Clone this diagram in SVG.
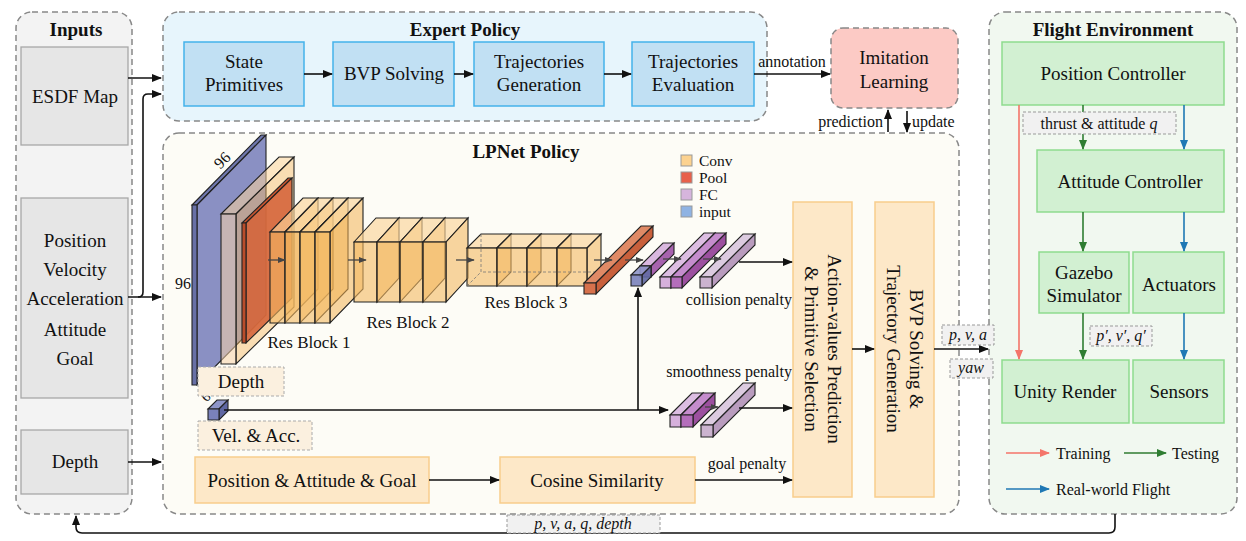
<svg xmlns="http://www.w3.org/2000/svg" width="1246" height="541" viewBox="0 0 1246 541">
<defs>
<marker id="ah" viewBox="0 0 10 10" refX="9" refY="5" markerWidth="10" markerHeight="10" markerUnits="userSpaceOnUse" orient="auto"><path d="M0,1 L10,5 L0,9 z" fill="#111"/></marker>
<marker id="ahs" viewBox="0 0 10 10" refX="9" refY="5" markerWidth="8" markerHeight="8" markerUnits="userSpaceOnUse" orient="auto"><path d="M0,1 L10,5 L0,9 z" fill="#444"/></marker>
<marker id="ahr" viewBox="0 0 10 10" refX="9" refY="5" markerWidth="10" markerHeight="10" markerUnits="userSpaceOnUse" orient="auto"><path d="M0,1 L10,5 L0,9 z" fill="#f4756a"/></marker>
<marker id="ahg" viewBox="0 0 10 10" refX="9" refY="5" markerWidth="10" markerHeight="10" markerUnits="userSpaceOnUse" orient="auto"><path d="M0,1 L10,5 L0,9 z" fill="#2f7d32"/></marker>
<marker id="ahb" viewBox="0 0 10 10" refX="9" refY="5" markerWidth="10" markerHeight="10" markerUnits="userSpaceOnUse" orient="auto"><path d="M0,1 L10,5 L0,9 z" fill="#1f78b4"/></marker>
</defs>
<style>
text{font-family:"Liberation Serif","Times New Roman",serif;fill:#111;stroke:none}
.t{font-size:19px;text-anchor:middle}
.tb{font-size:19px;font-weight:bold;text-anchor:middle}
.s{font-size:16px}
.sm{font-size:17px;text-anchor:middle}
.it{font-style:italic}
.panel{stroke:#888;stroke-width:1.5;stroke-dasharray:6 4}
.inb{fill:#e6e6e6;stroke:#a8a8a8;stroke-width:1.3}
.exb{fill:#c1e0f3;stroke:#44b2ea;stroke-width:1.5}
.orb{fill:#fde8c8;stroke:#f8cd8c;stroke-width:1.5}
.grb{fill:#d2f0d2;stroke:#8edb8e;stroke-width:1.5}
.lbl{fill:#f1f1f1;stroke:#999;stroke-width:1;stroke-dasharray:3 2}
.lblo{fill:#fbf0df;stroke:#aaa;stroke-width:1;stroke-dasharray:3 2}
.c{fill:none;stroke:#111;stroke-width:1.6}
.cs{fill:none;stroke:#444;stroke-width:1.3}
.cv{stroke:#222;stroke-width:1.1}
.cvf{fill:#f4b962;fill-opacity:.6}
.cvt{fill:#fbd49a;fill-opacity:.65}
.cvs{fill:#f2b255;fill-opacity:.55}
</style>

<!-- panels -->
<g id="inputs">
<rect class="panel" x="16" y="12" width="116" height="502" rx="16" fill="#f3f3f3"/>
<text class="tb" x="76" y="36">Inputs</text>
</g>
<g id="expert-policy">
<rect class="panel" x="163" y="12" width="604" height="109" rx="16" fill="#e7f5fc"/>
<text class="tb" x="465" y="36">Expert Policy</text>
</g>
<g id="lpnet-policy">
<rect class="panel" x="163" y="133" width="796" height="381" rx="16" fill="#fdfcf6"/>
<text class="tb" x="526" y="158">LPNet Policy</text>
</g>
<g id="flight-environment">
<rect class="panel" x="989" y="12" width="248" height="502" rx="16" fill="#f1f8f0"/>
<text class="tb" x="1113" y="36">Flight Environment</text>
</g>

<!-- input nodes -->
<g id="esdf-map"><rect class="inb" x="21" y="47" width="107" height="98"/><text class="t" x="75" y="103">ESDF Map</text></g>
<g id="state-inputs"><rect class="inb" x="21" y="198" width="107" height="200"/>
<text class="t" x="75" y="247">Position</text><text class="t" x="75" y="276">Velocity</text><text class="t" x="75" y="305">Acceleration</text><text class="t" x="75" y="336">Attitude</text><text class="t" x="75" y="365">Goal</text></g>
<g id="depth-input"><rect class="inb" x="21" y="430" width="107" height="64"/><text class="t" x="75" y="468">Depth</text></g>

<!-- expert nodes -->
<g id="state-primitives"><rect class="exb" x="184" y="42" width="120" height="64"/><text class="t" x="244" y="68">State</text><text class="t" x="244" y="91">Primitives</text></g>
<g id="bvp-solving"><rect class="exb" x="333" y="42" width="121" height="64"/><text class="t" x="394" y="80">BVP Solving</text></g>
<g id="traj-generation"><rect class="exb" x="474" y="42" width="130" height="64"/><text class="t" x="539" y="68">Trajectories</text><text class="t" x="539" y="91">Generation</text></g>
<g id="traj-evaluation"><rect class="exb" x="632" y="42" width="122" height="64"/><text class="t" x="693" y="68">Trajectories</text><text class="t" x="693" y="91">Evaluation</text></g>
<g id="imitation-learning"><rect x="831" y="28" width="127" height="80" rx="12" fill="#fccac5" stroke="#888" stroke-width="1.5" stroke-dasharray="6 4"/><text class="t" x="894" y="64">Imitation</text><text class="t" x="894" y="88">Learning</text></g>

<!-- CNN drawing -->
<g id="depth-plane" class="cv">
<polygon points="192,205 261,135 266,135 197,205" fill="#6f77ad"/>
<polygon points="197,205 266,135 266,315 197,385" fill="#8a90c3"/>
<polygon points="192,205 197,205 197,385 192,385" fill="#6870a6"/>
<text class="s" x="0" y="0" transform="translate(226,164) rotate(-45)" text-anchor="middle">96</text>
<text class="s" x="183" y="289" text-anchor="middle">96</text>
</g>
<g id="conv1" class="cv">
<polygon points="221,214 279,157 294,157 236,214" fill="#fbd49a" fill-opacity=".55"/>
<polygon points="236,214 294,157 294,307 236,364" fill="#f4b962" fill-opacity=".45"/>
<polygon points="242,223 288,178 292,178 246,223" fill="#c85530"/>
<polygon points="246,223 292,178 292,298 246,343" fill="#d5653b" fill-opacity=".9"/>
<polygon points="242,223 246,223 246,343 242,343" fill="#b94d2b"/>
<polygon points="221,214 236,214 236,364 221,364" fill="#f7d2a8" fill-opacity=".55"/>
</g>
<g id="res-block-1" class="cv">
<polygon class="cvt" points="270,232 303,198 318,198 285,232"/><polygon class="cvs" points="285,232 318,198 318,289 285,323"/><polygon class="cvf" points="270,232 285,232 285,323 270,323"/>
<polygon class="cvt" points="285,232 318,198 333,198 300,232"/><polygon class="cvs" points="300,232 333,198 333,289 300,323"/><polygon class="cvf" points="285,232 300,232 300,323 285,323"/>
<polygon class="cvt" points="300,232 333,198 348,198 315,232"/><polygon class="cvs" points="315,232 348,198 348,289 315,323"/><polygon class="cvf" points="300,232 315,232 315,323 300,323"/>
<polygon class="cvt" points="315,232 348,198 363,198 330,232"/><polygon class="cvs" points="330,232 363,198 363,289 330,323"/><polygon class="cvf" points="315,232 330,232 330,323 315,323"/>
<text x="309" y="348" class="sm">Res Block 1</text>
</g>
<g id="res-block-2" class="cv">
<polygon class="cvt" points="354,242 376,218 399,218 377,242"/><polygon class="cvs" points="377,242 399,218 399,278 377,302"/><polygon class="cvf" points="354,242 377,242 377,302 354,302"/>
<polygon class="cvt" points="377,242 399,218 422,218 400,242"/><polygon class="cvs" points="400,242 422,218 422,278 400,302"/><polygon class="cvf" points="377,242 400,242 400,302 377,302"/>
<polygon class="cvt" points="400,242 422,218 445,218 423,242"/><polygon class="cvs" points="423,242 445,218 445,278 423,302"/><polygon class="cvf" points="400,242 423,242 423,302 400,302"/>
<polygon class="cvt" points="423,242 445,218 468,218 446,242"/><polygon class="cvs" points="446,242 468,218 468,278 446,302"/><polygon class="cvf" points="423,242 446,242 446,302 423,302"/>
<text x="408" y="328" class="sm">Res Block 2</text>
</g>
<g id="res-block-3" class="cv">
<polygon class="cvt" points="467,248 481,234 511,234 497,248"/><polygon class="cvs" points="497,248 511,234 511,272 497,286"/><polygon class="cvf" points="467,248 497,248 497,286 467,286" fill-opacity=".35"/>
<polygon class="cvt" points="497,248 511,234 541,234 527,248"/><polygon class="cvs" points="527,248 541,234 541,272 527,286"/><polygon class="cvf" points="497,248 527,248 527,286 497,286"/>
<polygon class="cvt" points="527,248 541,234 571,234 557,248"/><polygon class="cvs" points="557,248 571,234 571,272 557,286"/><polygon class="cvf" points="527,248 557,248 557,286 527,286" fill-opacity=".35"/>
<polygon class="cvt" points="557,248 571,234 601,234 587,248"/><polygon class="cvs" points="587,248 601,234 601,272 587,286"/><polygon class="cvf" points="557,248 587,248 587,286 557,286"/>
<path d="M481,234 V272 H601 M467,286 L481,272" fill="none" stroke="#777" stroke-width=".8" stroke-dasharray="3 2"/>
<text x="526" y="308" class="sm">Res Block 3</text>
</g>
<g id="pool2" class="cv">
<polygon points="584,283 641,226 653,226 596,283" fill="#e08a66"/>
<polygon points="596,283 653,226 653,237 596,294" fill="#c9603c"/>
<polygon points="584,283 596,283 596,294 584,294" fill="#d7714c"/>
</g>
<g id="fc1" class="cv">
<polygon points="640,266 663,243 674,243 651,266" fill="#d9b7df"/>
<polygon points="651,266 674,243 674,254 651,277" fill="#a763ae"/>
<polygon points="640,266 651,266 651,277 640,277" fill="#c08ec8"/>
<polygon points="631,275 640,266 651,266 642,275" fill="#8e95c8" fill-opacity=".9"/>
<polygon points="642,275 651,266 651,277 642,286" fill="#5f67a2" fill-opacity=".9"/>
<polygon points="631,275 642,275 642,286 631,286" fill="#7a82bb" fill-opacity=".9"/>
</g>
<g id="fc2" class="cv">
<polygon points="660,277 704,233 715,233 671,277" fill="#dcbde2"/>
<polygon points="671,277 715,233 715,244 671,288" fill="#c796cf"/>
<polygon points="660,277 671,277 671,288 660,288" fill="#d6b0dc"/>
<polygon points="671,277 715,233 726,233 682,277" fill="#c58ccd"/>
<polygon points="682,277 726,233 726,244 682,288" fill="#9c509f"/>
<polygon points="671,277 682,277 682,288 671,288" fill="#b46ebb"/>
</g>
<g id="fc3" class="cv">
<polygon points="700,277 743,234 755,234 712,277" fill="#dccbe0"/>
<polygon points="712,277 755,234 755,245 712,288" fill="#b99cbe"/>
<polygon points="700,277 712,277 712,288 700,288" fill="#cbb3cf"/>
<text class="s" x="792" y="305" text-anchor="end">collision penalty</text>
</g>
<g id="vel-acc" class="cv">
<polygon points="208,409 217,400 228,400 219,409" fill="#8e95c8"/>
<polygon points="219,409 228,400 228,411 219,420" fill="#5f67a2"/>
<polygon points="208,409 219,409 219,420 208,420" fill="#7a82bb"/>
<text x="0" y="0" font-size="14" transform="translate(209,400) rotate(-45)" text-anchor="middle">6</text>
</g>
<g id="smooth-fc" class="cv">
<polygon points="670,415 692,393 703,393 681,415" fill="#dcbde2"/>
<polygon points="681,415 703,393 703,405 681,427" fill="#c796cf"/>
<polygon points="670,415 681,415 681,427 670,427" fill="#d6b0dc"/>
<polygon points="681,415 703,393 715,393 693,415" fill="#c58ccd"/>
<polygon points="693,415 715,393 715,405 693,427" fill="#9c509f"/>
<polygon points="681,415 693,415 693,427 681,427" fill="#b46ebb"/>
<polygon points="701,425 743,383 755,383 713,425" fill="#dccbe0"/>
<polygon points="713,425 755,383 755,395 713,437" fill="#b99cbe"/>
<polygon points="701,425 713,425 713,437 701,437" fill="#cbb3cf"/>
<text class="s" x="792" y="377" text-anchor="end">smoothness penalty</text>
</g>
<g id="cnn-legend">
<rect x="681" y="155" width="11" height="11" fill="#fcd28f" stroke="#999"/><text x="699" y="166" font-size="15.5">Conv</text>
<rect x="681" y="172" width="11" height="11" fill="#e8604a" stroke="#999"/><text x="699" y="183" font-size="15.5">Pool</text>
<rect x="681" y="189" width="11" height="11" fill="#d6b5dd" stroke="#999"/><text x="699" y="200" font-size="15.5">FC</text>
<rect x="681" y="206" width="11" height="11" fill="#8fb3e3" stroke="#999"/><text x="699" y="217" font-size="15.5">input</text>
</g>
<g id="depth-label"><rect class="lblo" x="198" y="367" width="86" height="29"/><text class="t" x="241" y="388">Depth</text></g>
<g id="vel-acc-label"><rect class="lblo" x="198" y="421" width="114" height="29"/><text class="t" x="256" y="442">Vel. &amp; Acc.</text></g>

<!-- LPNet nodes -->
<g id="pos-att-goal"><rect class="orb" x="195" y="457" width="234" height="46"/><text class="t" x="312" y="487">Position &amp; Attitude &amp; Goal</text></g>
<g id="cosine-similarity"><rect class="orb" x="500" y="457" width="195" height="46"/><text class="t" x="597" y="487">Cosine Similarity</text></g>
<g id="action-values"><rect class="orb" x="793" y="202" width="59" height="295"/>
<text class="t" transform="translate(834,349) rotate(90)" x="0" y="6.5">Action-values Prediction</text>
<text class="t" transform="translate(811,349) rotate(90)" x="0" y="6.5">&amp; Primitive Selection</text></g>
<g id="bvp-traj-gen"><rect class="orb" x="875" y="202" width="59" height="295"/>
<text class="t" transform="translate(916,349) rotate(90)" x="0" y="6.5">BVP Solving &amp;</text>
<text class="t" transform="translate(893,349) rotate(90)" x="0" y="6.5">Trajectory Generation</text></g>

<!-- flight environment nodes -->
<g id="position-controller"><rect class="grb" x="1002" y="42" width="222" height="63"/><text class="t" x="1113" y="80">Position Controller</text></g>
<g id="attitude-controller"><rect class="grb" x="1037" y="150" width="187" height="62"/><text class="t" x="1130" y="188">Attitude Controller</text></g>
<g id="gazebo-simulator"><rect class="grb" x="1039" y="252" width="90" height="61"/><text class="t" x="1084" y="279">Gazebo</text><text class="t" x="1084" y="302">Simulator</text></g>
<g id="actuators"><rect class="grb" x="1133" y="252" width="91" height="61"/><text class="t" x="1179" y="291">Actuators</text></g>
<g id="unity-render"><rect class="grb" x="1002" y="360" width="127" height="63"/><text class="t" x="1065" y="398">Unity Render</text></g>
<g id="sensors"><rect class="grb" x="1133" y="360" width="91" height="63"/><text class="t" x="1179" y="398">Sensors</text></g>

<!-- connectors -->
<g id="connectors">
<path class="c" d="M128,78 H161" marker-end="url(#ah)"/>
<path class="c" d="M128,297 H161" marker-end="url(#ah)"/>
<path class="c" d="M138,297 Q143,297 143,292 V99 Q143,94 148,94 H161" marker-end="url(#ah)"/>
<path class="c" d="M128,462 H161" marker-end="url(#ah)"/>
<path class="c" d="M304,74 H332" marker-end="url(#ah)"/>
<path class="c" d="M454,74 H473" marker-end="url(#ah)"/>
<path class="c" d="M604,74 H631" marker-end="url(#ah)"/>
<path class="c" d="M754,74 H830" marker-end="url(#ah)"/>
<text class="s" x="792" y="67" text-anchor="middle">annotation</text>
<path class="c" d="M888,132 V110" marker-end="url(#ah)"/>
<text class="s" x="883" y="127" text-anchor="end">prediction</text>
<path class="c" d="M907,111 V132" marker-end="url(#ah)"/>
<text class="s" x="912" y="127">update</text>
<path class="cs" d="M268,260 H285" marker-end="url(#ahs)"/>
<path class="cs" d="M348,260 H366" marker-end="url(#ahs)"/>
<path class="cs" d="M456,260 H474" marker-end="url(#ahs)"/>
<path class="cs" d="M594,260 H612" marker-end="url(#ahs)"/>
<path class="cs" d="M625,260 H643" marker-end="url(#ahs)"/>
<path class="cs" d="M663,259 H681" marker-end="url(#ahs)"/>
<path class="cs" d="M703,259 H721" marker-end="url(#ahs)"/>
<path class="cs" d="M705,407 H718" marker-end="url(#ahs)"/>
<path class="c" d="M224,410 H668" marker-end="url(#ah)"/>
<path class="c" d="M638,410 V288" marker-end="url(#ah)"/>
<path class="c" d="M739,262 H792" marker-end="url(#ah)"/>
<path class="c" d="M739,408 H792" marker-end="url(#ah)"/>
<path class="c" d="M429,480 H499" marker-end="url(#ah)"/>
<path class="c" d="M695,480 H792" marker-end="url(#ah)"/>
<text class="s" x="747" y="469" text-anchor="middle">goal penalty</text>
<path class="c" d="M852,349 H874" marker-end="url(#ah)"/>
<path class="c" d="M934,349 H988" marker-end="url(#ah)"/>
<rect class="lbl" x="942" y="325" width="52" height="20"/>
<text class="s it" x="968" y="340" text-anchor="middle" font-size="15">p, v, a</text>
<rect class="lbl" x="950" y="359" width="43" height="19"/>
<text class="s it" x="971" y="373" text-anchor="middle" font-size="15">yaw</text>
<path class="c" d="M1115,514 V527 Q1115,533 1109,533 H82 Q76,533 76,527 V516" marker-end="url(#ah)"/>
<rect class="lbl" x="507" y="515" width="153" height="18"/>
<text class="s it" x="583" y="529" text-anchor="middle" font-size="15">p, v, a, q, depth</text>
<path fill="none" stroke="#f4756a" stroke-width="1.6" d="M1019,105 V359" marker-end="url(#ahr)"/>
<path fill="none" stroke="#2f7d32" stroke-width="1.6" d="M1083,105 V149" marker-end="url(#ahg)"/>
<path fill="none" stroke="#2f7d32" stroke-width="1.6" d="M1083,212 V251" marker-end="url(#ahg)"/>
<path fill="none" stroke="#2f7d32" stroke-width="1.6" d="M1083,313 V359" marker-end="url(#ahg)"/>
<path fill="none" stroke="#1f78b4" stroke-width="1.6" d="M1184,105 V149" marker-end="url(#ahb)"/>
<path fill="none" stroke="#1f78b4" stroke-width="1.6" d="M1184,212 V251" marker-end="url(#ahb)"/>
<path fill="none" stroke="#1f78b4" stroke-width="1.6" d="M1184,313 V359" marker-end="url(#ahb)"/>
<rect class="lbl" x="1023" y="112" width="153" height="22"/>
<text class="s" x="1099" y="129" text-anchor="middle">thrust &amp; attitude <tspan font-style="italic">q</tspan></text>
<rect class="lbl" x="1090" y="326" width="62" height="20"/>
<text class="s it" x="1121" y="341" text-anchor="middle" font-size="15">p′, v′, q′</text>
</g>

<g id="flight-legend">
<path fill="none" stroke="#f4756a" stroke-width="1.6" d="M1006,453 H1049" marker-end="url(#ahr)"/>
<text class="s" x="1056" y="459">Training</text>
<path fill="none" stroke="#2f7d32" stroke-width="1.6" d="M1124,453 H1166" marker-end="url(#ahg)"/>
<text class="s" x="1172" y="459">Testing</text>
<path fill="none" stroke="#1f78b4" stroke-width="1.6" d="M1006,489 H1049" marker-end="url(#ahb)"/>
<text class="s" x="1056" y="495">Real-world Flight</text>
</g>
</svg>
